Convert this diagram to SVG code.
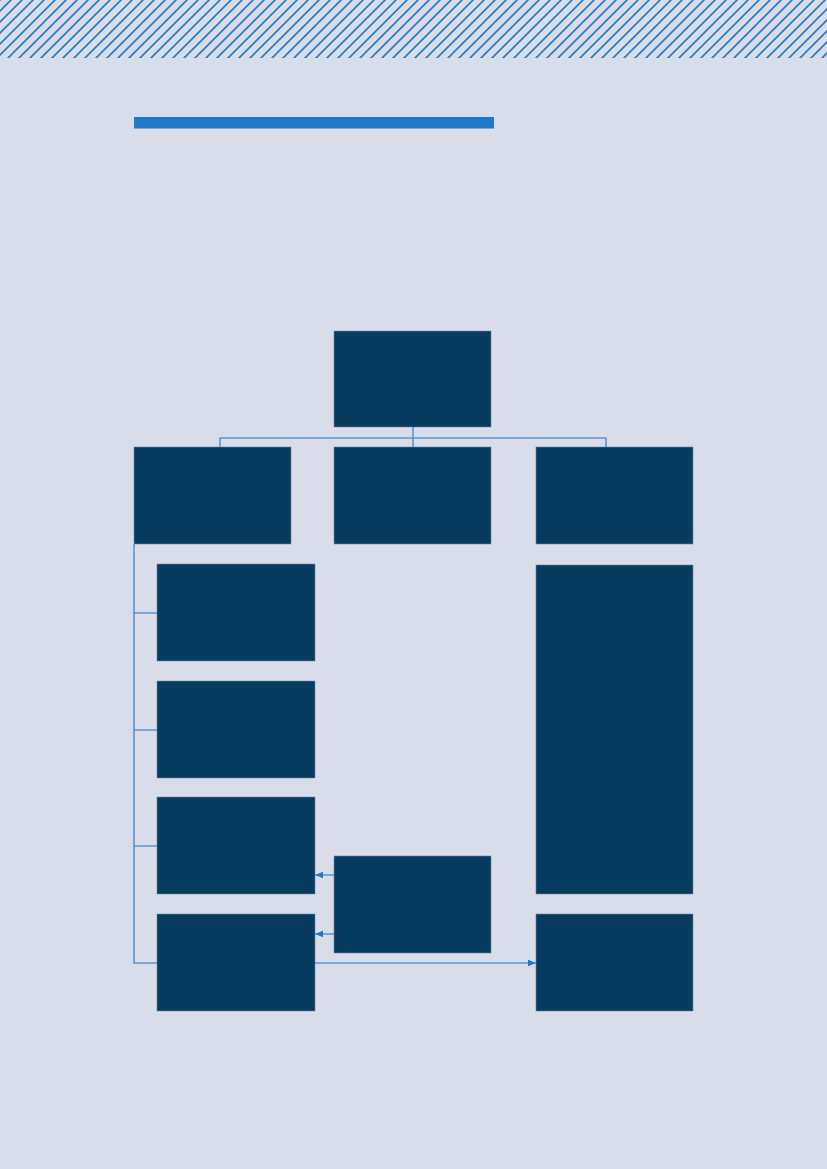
<svg xmlns="http://www.w3.org/2000/svg" width="827" height="1169" viewBox="0 0 827 1169">
<defs>
<style>
.node{fill:#073b60;stroke:#6b86a0;stroke-width:0.6}
.conn{fill:none;stroke:#2277c8;stroke-width:1.1}
</style>
<pattern id="hatch" patternUnits="userSpaceOnUse" width="11" height="11">
<path d="M-1,12 L12,-1 M-3,3 L3,-3 M8,14 L14,8" stroke="#2277c8" stroke-width="1.6"/>
</pattern>
<marker id="arr" viewBox="0 0 10 10" refX="10" refY="5" markerWidth="8" markerHeight="8" markerUnits="userSpaceOnUse" orient="auto">
<path d="M0,1 L10,5 L0,9 Z" fill="#2277c8"/>
</marker>
</defs>
<rect width="827" height="1169" fill="#d9dde9"/>
<rect width="827" height="58" fill="url(#hatch)"/>
<rect x="134" y="117" width="360" height="11.5" fill="#2178c8"/>
<g id="connectors">
<path class="conn" d="M413,427 V447 M220,447 V438 H606 V447"/>
<path class="conn" d="M134,544 V963 H157 M134,613 H157 M134,730 H157 M134,846 H157"/>
<path class="conn" d="M334,875 H315" marker-end="url(#arr)"/>
<path class="conn" d="M334,934 H315" marker-end="url(#arr)"/>
<path class="conn" d="M315,963 H536" marker-end="url(#arr)"/>
</g>
<g id="n-top"><rect class="node" x="334" y="331" width="157" height="96"/></g>
<g id="n-left"><rect class="node" x="134" y="447" width="157" height="97"/></g>
<g id="n-mid"><rect class="node" x="334" y="447" width="157" height="97"/></g>
<g id="n-right"><rect class="node" x="536" y="447" width="157" height="97"/></g>
<g id="n-l1"><rect class="node" x="157" y="564" width="158" height="97"/></g>
<g id="n-l2"><rect class="node" x="157" y="681" width="158" height="97"/></g>
<g id="n-l3"><rect class="node" x="157" y="797" width="158" height="97"/></g>
<g id="n-l4"><rect class="node" x="157" y="914" width="158" height="97"/></g>
<g id="n-r-tall"><rect class="node" x="536" y="565" width="157" height="329"/></g>
<g id="n-mid-bottom"><rect class="node" x="334" y="856" width="157" height="97"/></g>
<g id="n-r-bottom"><rect class="node" x="536" y="914" width="157" height="97"/></g>
</svg>
